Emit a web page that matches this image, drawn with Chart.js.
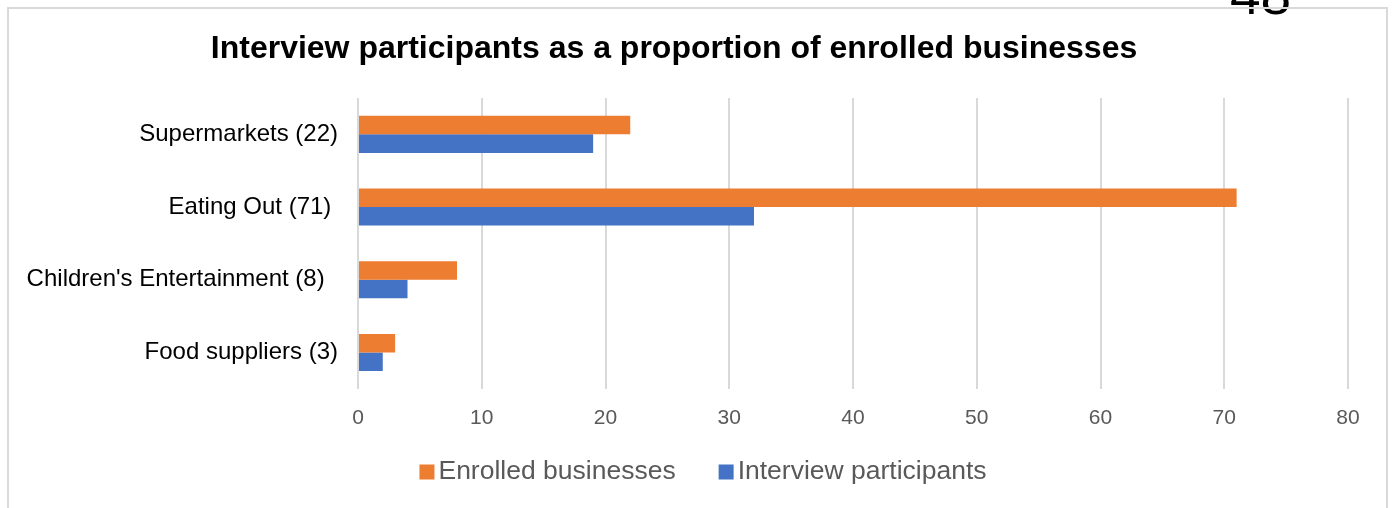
<!DOCTYPE html>
<html>
<head>
<meta charset="utf-8">
<script src="https://cdn.jsdelivr.net/npm/chart.js@4.4.1/dist/chart.umd.min.js"></script>
<style>
  html, body { margin: 0; padding: 0; background: #fff; width: 1392px; height: 508px; overflow: hidden; }
  #pageNum { position: absolute; left: 1230px; top: -32px; font: 55px "Liberation Sans", Arial, sans-serif; color: #000; line-height: 55px; }
  #frame { position: absolute; left: 7px; top: 7px; width: 1381px; height: 520px; border: 2px solid #d9d9d9; border-bottom: none; box-sizing: border-box; }
  #wrap { position: absolute; left: 0; top: 0; width: 1392px; height: 508px; }
</style>
</head>
<body>
<div id="pageNum">48</div>
<div id="frame"></div>
<div id="wrap"><canvas id="c" width="1392" height="508"></canvas></div>
<script>
const categories = ["Supermarkets (22)", "Eating Out (71) ", "Children's Entertainment (8)  ", "Food suppliers (3)"];
const enrolledBusinesses = [22, 71, 8, 3];
const interviewParticipants = [19, 32, 4, 2];
const xTicks = [0, 10, 20, 30, 40, 50, 60, 70, 80];

const FONT = '"Liberation Sans", Arial, sans-serif';

// Legend drawn below the axis: square swatch, small gap, label.
const bottomLegend = {
  id: 'bottomLegend',
  afterDraw(chart) {
    const ctx = chart.ctx;
    const box = 15, gap = 4, spacing = 43;
    ctx.save();
    ctx.font = '26.5px ' + FONT;
    ctx.textBaseline = 'middle';
    ctx.textAlign = 'left';
    const items = chart.data.datasets.map(d => ({ text: d.label, color: d.backgroundColor, w: ctx.measureText(d.label).width }));
    const total = items.reduce((a, it) => a + box + gap + it.w, 0) + spacing * (items.length - 1);
    let x = chart.width / 2 + 7 - total / 2;
    const cy = 472;
    items.forEach(it => {
      ctx.fillStyle = it.color;
      ctx.fillRect(x, cy - 7.5, box, box);
      x += box + gap;
      ctx.fillStyle = '#595959';
      ctx.fillText(it.text, x, cy);
      x += it.w + spacing;
    });
    ctx.restore();
  }
};

new Chart(document.getElementById('c'), {
  type: 'bar',
  data: {
    labels: categories,
    datasets: [
      { label: 'Enrolled businesses', data: enrolledBusinesses, backgroundColor: '#ED7D31' },
      { label: 'Interview participants', data: interviewParticipants, backgroundColor: '#4472C4' }
    ]
  },
  plugins: [bottomLegend],
  options: {
    indexAxis: 'y',
    responsive: false,
    animation: false,
    events: [],
    categoryPercentage: 0.51,
    barPercentage: 1.0,
    layout: { padding: { left: 0, right: 44, top: 0, bottom: 60 } },
    plugins: {
      title: {
        display: true,
        text: 'Interview participants as a proportion of enrolled businesses',
        color: '#000',
        font: { family: FONT, size: 32, weight: 'bold' },
        padding: { top: 30, bottom: 29.6 }
      },
      legend: { display: false },
      tooltip: { enabled: false }
    },
    scales: {
      x: {
        min: 0,
        max: 80,
        afterBuildTicks: (s) => { s.ticks = xTicks.map(v => ({ value: v })); },
        grid: { color: '#d9d9d9', lineWidth: 2, drawTicks: false },
        border: { display: false },
        ticks: { color: '#595959', font: { family: FONT, size: 21 }, padding: 17 }
      },
      y: {
        afterFit: (s) => { s.width = 358; },
        grid: { display: false, drawTicks: false },
        border: { display: false },
        ticks: { color: '#000', font: { family: FONT, size: 24 }, padding: 20 }
      }
    }
  }
});
</script>
</body>
</html>
